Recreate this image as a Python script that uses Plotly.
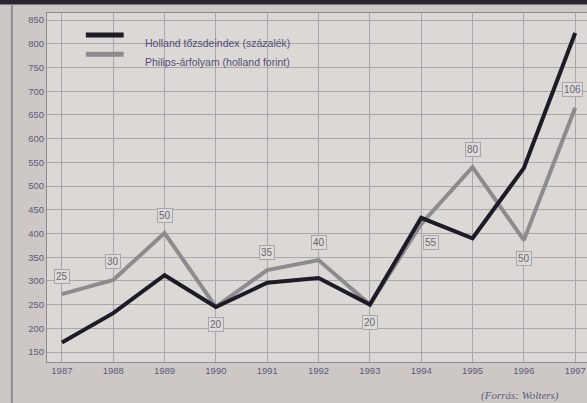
import plotly.graph_objects as go

years = [1987, 1988, 1989, 1990, 1991, 1992, 1993, 1994, 1995, 1996, 1997]
index_values = [170, 232, 312, 245, 296, 306, 250, 433, 390, 538, 823]
philips_values = [272, 302, 401, 245, 323, 344, 250, 420, 540, 386, 665]
philips_labels = ["25", "30", "50", "20", "35", "40", "20", "55", "80", "50", "106"]
label_side = [1, 1, 1, -1, 1, 1, -1, -1, 1, -1, 1]
y_ticks = [150, 200, 250, 300, 350, 400, 450, 500, 550, 600, 650, 700, 750, 800, 850]
series_names = ["Holland tőzsdeindex (százalék)", "Philips-árfolyam (holland forint)"]

tick_color = "#5b5a7a"
fig = go.Figure()
fig.add_trace(go.Scatter(x=years, y=philips_values, mode="lines", name=series_names[1],
                         line=dict(color="#8d8a90", width=4)))
fig.add_trace(go.Scatter(x=years, y=index_values, mode="lines", name=series_names[0],
                         line=dict(color="#1c1b26", width=4)))

for x, y, t, s in zip(years, philips_values, philips_labels, label_side):
    fig.add_annotation(x=x, y=y, text=t, showarrow=False, yshift=18 * s,
                       xshift=10 if x == 1994 else (-3 if x == 1997 else 0),
                       font=dict(size=10, color="#6a6878", family="Liberation Sans"),
                       bordercolor="#a9a6ab", borderwidth=1, borderpad=1,
                       bgcolor="#dedad7")

# legend drawn manually
for i, (name, col) in enumerate([(series_names[0], "#1c1b26"), (series_names[1], "#8d8a90")]):
    yy = 0.937 - i * 0.055
    fig.add_shape(type="line", xref="paper", yref="paper", x0=0.072, x1=0.142, y0=yy, y1=yy,
                  line=dict(color=col, width=5))
    fig.add_annotation(xref="paper", yref="paper", x=0.178, y=yy, text=name, showarrow=False,
                       xanchor="left", font=dict(size=10.5, color="#4f4e78", family="Liberation Sans"))

fig.add_annotation(xref="paper", yref="paper", x=0.80, y=-0.12, text="<i>(Forrás: Wolters)</i>",
                   showarrow=False, xanchor="left", font=dict(size=11, color="#5b5a7a", family="Liberation Serif"))

# photo frame elements
fig.add_shape(type="rect", xref="paper", yref="paper", x0=-0.2, x1=1.2, y0=1.024, y1=1.07,
              fillcolor="#2a2530", line=dict(width=0), layer="above")
fig.add_shape(type="line", xref="paper", yref="paper", x0=-0.065, x1=-0.065, y0=-0.2, y1=1.024,
              line=dict(color="#8f8a96", width=2))

fig.update_layout(
    template="none",
    width=587, height=403,
    margin=dict(l=47, r=0, t=13, b=41),
    paper_bgcolor="#cdc8c6",
    plot_bgcolor="#dcd8d5",
    showlegend=False,
    xaxis=dict(range=[1986.71, 1997.23], tickmode="array", tickvals=years, automargin=False,
               ticktext=[str(y) for y in years], showgrid=True, gridcolor="#aaa7ac", gridwidth=1,
               tickfont=dict(size=9.5, color=tick_color, family="Liberation Sans Narrow, Liberation Sans"),
               showline=True, linecolor="#8e8a90", linewidth=1, mirror=True, zeroline=False, ticks=""),
    yaxis=dict(range=[129, 865], tickmode="array", tickvals=y_ticks, showgrid=True, automargin=False,
               gridcolor="#aaa7ac", gridwidth=1,
               tickfont=dict(size=9.5, color=tick_color, family="Liberation Sans Narrow, Liberation Sans"),
               showline=True, linecolor="#8e8a90", linewidth=1, mirror=True, zeroline=False, ticks=""),
)

fig.write_html("out.html", config={"displayModeBar": False},
               post_script="document.body.style.margin='0';document.body.style.overflow='hidden';")
